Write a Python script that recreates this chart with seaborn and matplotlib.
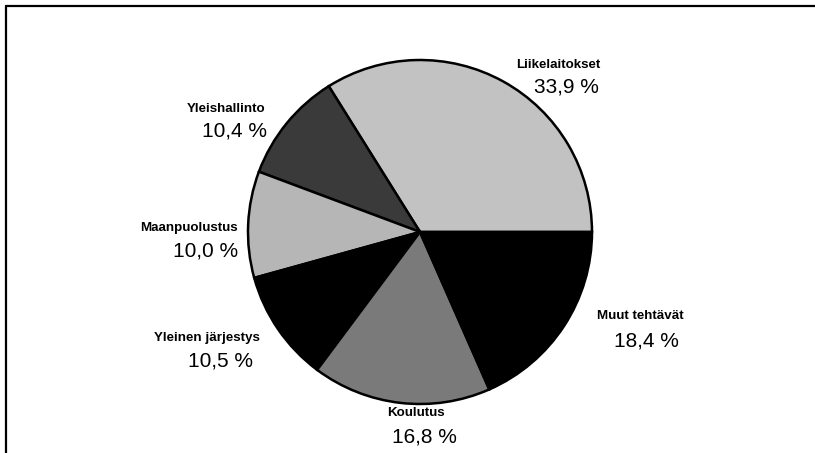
import matplotlib
matplotlib.use("Agg")
import matplotlib.pyplot as plt
import seaborn as sns
from matplotlib.lines import Line2D

# Data
categories = ["Liikelaitokset", "Yleishallinto", "Maanpuolustus",
              "Yleinen järjestys", "Koulutus", "Muut tehtävät"]
shares = [33.9, 10.4, 10.0, 10.5, 16.8, 18.4]
pct_labels = ["33,9 %", "10,4 %", "10,0 %", "10,5 %", "16,8 %", "18,4 %"]
slice_colors = ["#c2c2c2", "#3a3a3a", "#b6b6b6", "#000000", "#7a7a7a", "#000000"]

sns.set_theme(style="white")
plt.rcParams['font.family'] = ['Liberation Sans', 'DejaVu Sans']

W, H = 815, 453
fig = plt.figure(figsize=(W / 100, H / 100), dpi=100)
ax = fig.add_axes([0, 0, 1, 1])

# pixel-style layout (y measured from top, converted)
cx, cy, r = 420, 232, 172
ax.pie(shares, colors=slice_colors, startangle=0, counterclock=True,
       center=(cx, H - cy), radius=r,
       wedgeprops=dict(edgecolor="black", linewidth=1.8))
ax.set_xlim(0, W)
ax.set_ylim(0, H)
ax.set_aspect("auto")
ax.axis("off")

# label anchor positions (name center, pct center), pixels from top-left
name_pos = [(558, 65), (226, 109), (189, 228), (207, 338), (416, 413), (640, 316)]
pct_pos = [(566, 87), (235, 131), (206, 251), (221, 361), (424, 437), (646, 341)]

for name, pct, (nx, ny), (px, py) in zip(categories, pct_labels, name_pos, pct_pos):
    ax.text(nx, H - ny, name, ha="center", va="center", fontsize=9.6,
            fontweight="bold", color="black")
    ax.text(px, H - py, pct, ha="center", va="center", fontsize=15,
            color="black")

# frame lines (top and left only, as in the scan)
fig.add_artist(Line2D([6 / W, 1.0], [1 - 6 / H, 1 - 6 / H],
                      transform=fig.transFigure, color="black", linewidth=1.6))
fig.add_artist(Line2D([6 / W, 6 / W], [0.0, 1 - 6 / H],
                      transform=fig.transFigure, color="black", linewidth=1.6))

fig.savefig("out.png", dpi=100)
